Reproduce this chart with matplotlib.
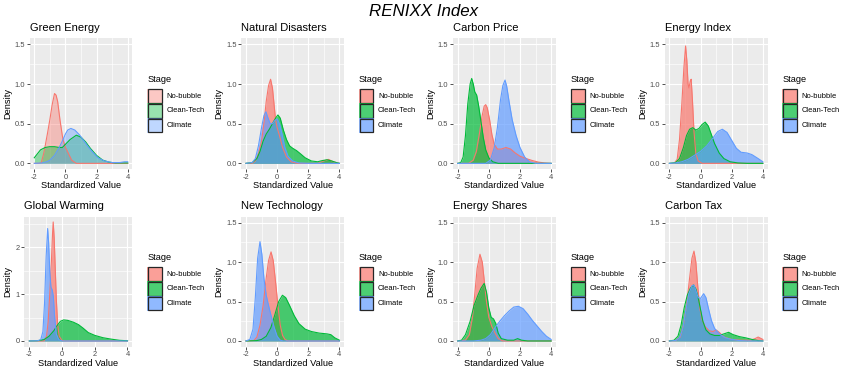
import matplotlib.pyplot as plt
from matplotlib.patches import Rectangle

plt.rcParams["font.family"] = ["Liberation Sans", "DejaVu Sans"]

W, H = 847, 374

STAGES = ["No-bubble", "Clean-Tech", "Climate"]
STAGE_COLORS = ["#F8766D", "#00BA38", "#619CFF"]
X_TICKS = [-2, 0, 2, 4]

# density curves: (standardized value, density)
ge_nobubble = [(-2, 0), (-1.7, 0), (-1.55, 0.01), (-1.4, 0.12), (-1.3, 0.22), (-1.15, 0.38), (-1.0, 0.55),
               (-0.85, 0.74), (-0.7, 0.88), (-0.6, 0.86), (-0.5, 0.78), (-0.35, 0.55), (-0.2, 0.35),
               (-0.14, 0.29), (0.0, 0.2), (0.18, 0.13), (0.4, 0.04), (0.7, 0), (4, 0)]
ge_cleantech = [(-2, 0.07), (-1.8, 0.12), (-1.6, 0.17), (-1.3, 0.2), (-1.0, 0.21), (-0.7, 0.21), (-0.4, 0.2),
                (-0.2, 0.2), (0.0, 0.24), (0.3, 0.3), (0.7, 0.355), (1.0, 0.33), (1.3, 0.27), (1.6, 0.19),
                (2.0, 0.1), (2.4, 0.04), (2.8, 0.015), (3.2, 0.005), (3.6, 0.005), (4, 0.005)]
ge_climate = [(-2, 0), (-1.5, 0.005), (-1.2, 0.02), (-1.0, 0.04), (-0.7, 0.1), (-0.4, 0.2), (-0.2, 0.28),
              (0.0, 0.37), (0.15, 0.42), (0.35, 0.44), (0.6, 0.42), (0.9, 0.36), (1.2, 0.28), (1.5, 0.2),
              (1.8, 0.13), (2.1, 0.07), (2.5, 0.03), (3.0, 0.01), (3.5, 0.01), (3.8, 0.02), (4, 0.02)]

nd_nobubble = [(-2, 0), (-1.6, 0), (-1.4, 0.03), (-1.2, 0.12), (-1.0, 0.28), (-0.85, 0.5), (-0.7, 0.78),
               (-0.55, 0.98), (-0.42, 1.06), (-0.3, 0.95), (-0.2, 0.75), (-0.1, 0.55), (0.0, 0.45),
               (0.15, 0.35), (0.35, 0.2), (0.6, 0.08), (0.9, 0.02), (1.3, 0), (2.6, 0), (3.0, 0.03),
               (3.3, 0.05), (3.6, 0.02), (4, 0)]
nd_cleantech = [(-2, 0), (-1.6, 0.01), (-1.3, 0.06), (-1.1, 0.15), (-0.9, 0.28), (-0.7, 0.37), (-0.5, 0.43),
                (-0.3, 0.5), (-0.1, 0.57), (0.05, 0.61), (0.2, 0.57), (0.4, 0.42), (0.6, 0.3), (0.8, 0.22),
                (1.0, 0.19), (1.25, 0.16), (1.5, 0.12), (1.8, 0.07), (2.2, 0.03), (2.6, 0.02), (2.9, 0.035),
                (3.2, 0.045), (3.5, 0.03), (3.8, 0.01), (4, 0)]
nd_climate = [(-2, 0), (-1.6, 0.01), (-1.4, 0.06), (-1.2, 0.22), (-1.0, 0.45), (-0.85, 0.6), (-0.72, 0.65),
              (-0.6, 0.58), (-0.45, 0.5), (-0.3, 0.5), (-0.15, 0.54), (0.0, 0.56), (0.15, 0.5), (0.3, 0.38),
              (0.5, 0.2), (0.7, 0.09), (1.0, 0.03), (1.4, 0.005), (2.0, 0), (4, 0)]

cp_nobubble = [(-2, 0), (-1.3, 0), (-1.0, 0.04), (-0.8, 0.15), (-0.6, 0.38), (-0.45, 0.58), (-0.3, 0.72),
               (-0.2, 0.74), (-0.1, 0.7), (0.05, 0.55), (0.2, 0.36), (0.35, 0.24), (0.55, 0.18), (0.8, 0.18),
               (1.1, 0.2), (1.4, 0.18), (1.7, 0.13), (2.0, 0.09), (2.4, 0.06), (2.8, 0.035), (3.2, 0.015),
               (3.6, 0.005), (4, 0)]
cp_cleantech = [(-2, 0), (-1.8, 0.01), (-1.65, 0.08), (-1.5, 0.35), (-1.35, 0.75), (-1.2, 1.0), (-1.1, 1.07),
                (-1.0, 1.0), (-0.9, 0.9), (-0.78, 0.86), (-0.65, 0.72), (-0.5, 0.52), (-0.35, 0.32),
                (-0.2, 0.17), (0.0, 0.07), (0.25, 0.02), (0.6, 0), (4, 0)]
cp_climate = [(-2, 0), (-0.2, 0), (0.1, 0.04), (0.35, 0.2), (0.55, 0.45), (0.75, 0.8), (0.9, 0.98),
              (1.04, 1.05), (1.15, 0.97), (1.3, 0.78), (1.5, 0.55), (1.75, 0.35), (2.0, 0.2), (2.3, 0.08),
              (2.6, 0.02), (3.0, 0), (4, 0)]

ei_nobubble = [(-2, 0), (-1.7, 0), (-1.5, 0.05), (-1.35, 0.3), (-1.2, 0.75), (-1.07, 1.2), (-0.96, 1.48),
               (-0.88, 1.3), (-0.8, 1.0), (-0.74, 0.95), (-0.66, 1.04), (-0.6, 1.06), (-0.52, 0.8),
               (-0.42, 0.4), (-0.3, 0.12), (-0.15, 0.03), (0.1, 0), (4, 0)]
ei_cleantech = [(-2, 0), (-1.6, 0.01), (-1.35, 0.06), (-1.1, 0.2), (-0.9, 0.35), (-0.7, 0.43), (-0.5, 0.45),
                (-0.3, 0.42), (-0.1, 0.44), (0.1, 0.49), (0.3, 0.52), (0.5, 0.47), (0.7, 0.36), (0.9, 0.25),
                (1.2, 0.13), (1.5, 0.06), (1.9, 0.02), (2.4, 0.005), (3, 0), (4, 0)]
ei_climate = [(-2, 0), (-1.6, 0.005), (-1.2, 0.02), (-0.8, 0.05), (-0.4, 0.1), (0.0, 0.15), (0.4, 0.22),
              (0.8, 0.32), (1.1, 0.4), (1.4, 0.43), (1.7, 0.39), (2.0, 0.29), (2.3, 0.19), (2.6, 0.14),
              (3.0, 0.13), (3.3, 0.11), (3.7, 0.06), (4, 0.02)]

gw_nobubble = [(-2, 0), (-1.1, 0), (-0.95, 0.1), (-0.85, 0.4), (-0.75, 1.0), (-0.65, 1.7), (-0.58, 2.3),
               (-0.54, 2.54), (-0.48, 2.2), (-0.42, 1.6), (-0.35, 0.9), (-0.27, 0.35), (-0.17, 0.1),
               (0.0, 0.01), (0.2, 0), (4, 0)]
gw_cleantech = [(-2, 0), (-1.5, 0.005), (-1.1, 0.03), (-0.8, 0.1), (-0.5, 0.22), (-0.3, 0.33), (-0.1, 0.42),
                (0.1, 0.45), (0.35, 0.44), (0.7, 0.4), (1.0, 0.35), (1.3, 0.27), (1.6, 0.18), (2.0, 0.12),
                (2.5, 0.07), (3.0, 0.04), (3.5, 0.015), (4, 0.005)]
gw_climate = [(-2, 0), (-1.5, 0.005), (-1.3, 0.03), (-1.17, 0.2), (-1.07, 0.8), (-0.97, 1.8), (-0.88, 2.4),
              (-0.82, 2.1), (-0.75, 1.5), (-0.68, 1.15), (-0.6, 1.09), (-0.53, 0.95), (-0.45, 0.5),
              (-0.35, 0.15), (-0.2, 0.03), (0.0, 0), (4, 0)]

nt_nobubble = [(-2, 0), (-1.5, 0.005), (-1.3, 0.05), (-1.1, 0.2), (-0.9, 0.45), (-0.7, 0.8), (-0.55, 1.02),
               (-0.39, 1.13), (-0.25, 1.02), (-0.1, 0.75), (0.05, 0.45), (0.2, 0.2), (0.35, 0.07),
               (0.5, 0.02), (0.7, 0), (4, 0)]
nt_cleantech = [(-2, 0), (-1.3, 0.005), (-1.0, 0.02), (-0.7, 0.06), (-0.4, 0.17), (-0.15, 0.33), (0.1, 0.5),
                (0.34, 0.58), (0.55, 0.55), (0.8, 0.45), (1.1, 0.32), (1.4, 0.22), (1.8, 0.15), (2.2, 0.12),
                (2.7, 0.1), (3.2, 0.09), (3.45, 0.08), (3.7, 0.04), (4, 0.01)]
nt_climate = [(-2, 0), (-1.75, 0.02), (-1.55, 0.15), (-1.4, 0.55), (-1.25, 1.05), (-1.1, 1.26), (-0.98, 1.1),
              (-0.85, 0.8), (-0.7, 0.58), (-0.55, 0.45), (-0.4, 0.33), (-0.2, 0.18), (0.0, 0.06),
              (0.2, 0.01), (0.4, 0), (4, 0)]

es_nobubble = [(-2, 0), (-1.5, 0.01), (-1.25, 0.08), (-1.05, 0.3), (-0.9, 0.6), (-0.75, 0.92), (-0.57, 1.1),
               (-0.42, 1.0), (-0.3, 0.78), (-0.15, 0.5), (0.0, 0.3), (0.2, 0.18), (0.4, 0.1), (0.6, 0.03),
               (0.9, 0), (4, 0)]
es_cleantech = [(-2, 0), (-1.75, 0.01), (-1.5, 0.08), (-1.2, 0.25), (-0.95, 0.45), (-0.7, 0.58), (-0.5, 0.67),
                (-0.3, 0.73), (-0.15, 0.62), (0.0, 0.42), (0.15, 0.3), (0.3, 0.28), (0.45, 0.22), (0.6, 0.1),
                (0.8, 0.03), (1.2, 0.01), (1.6, 0.01), (1.85, 0.03), (2.1, 0.01), (2.5, 0), (4, 0)]
es_climate = [(-2, 0), (-1.0, 0), (-0.5, 0.01), (-0.2, 0.03), (0.1, 0.08), (0.4, 0.17), (0.7, 0.25),
              (1.0, 0.32), (1.3, 0.38), (1.6, 0.43), (1.9, 0.44), (2.2, 0.41), (2.5, 0.34), (2.8, 0.26),
              (3.1, 0.19), (3.4, 0.12), (3.7, 0.06), (4, 0.02)]

ct_nobubble = [(-2, 0), (-1.6, 0.005), (-1.3, 0.05), (-1.1, 0.2), (-0.9, 0.45), (-0.7, 0.8), (-0.55, 1.05),
               (-0.42, 1.14), (-0.3, 1.0), (-0.18, 0.7), (-0.05, 0.42), (0.1, 0.27), (0.3, 0.18), (0.55, 0.13),
               (0.8, 0.12), (1.0, 0.14), (1.2, 0.11), (1.5, 0.05), (2.0, 0.02), (2.6, 0.01), (3.2, 0.01),
               (3.5, 0.03), (3.7, 0.05), (3.9, 0.03), (4, 0.02)]
ct_cleantech = [(-2, 0), (-1.7, 0.01), (-1.45, 0.06), (-1.25, 0.2), (-1.05, 0.42), (-0.85, 0.58), (-0.65, 0.67),
                (-0.46, 0.71), (-0.3, 0.66), (-0.15, 0.55), (0.0, 0.4), (0.15, 0.25), (0.35, 0.14), (0.6, 0.09),
                (0.9, 0.07), (1.2, 0.07), (1.5, 0.09), (1.8, 0.11), (2.1, 0.08), (2.5, 0.055), (2.9, 0.04),
                (3.3, 0.02), (3.7, 0.005), (4, 0)]
ct_climate = [(-2, 0), (-1.6, 0.005), (-1.35, 0.04), (-1.15, 0.15), (-0.95, 0.38), (-0.75, 0.6), (-0.55, 0.7),
              (-0.42, 0.71), (-0.3, 0.64), (-0.15, 0.55), (0.0, 0.54), (0.2, 0.6), (0.35, 0.55), (0.5, 0.42),
              (0.7, 0.26), (0.9, 0.16), (1.2, 0.09), (1.6, 0.04), (2.0, 0.02), (2.5, 0.005), (3.0, 0), (4, 0)]

panel_titles = ["Green Energy", "Natural Disasters", "Carbon Price", "Energy Index",
                "Global Warming", "New Technology", "Energy Shares", "Carbon Tax"]
panel_curves = [
    (ge_nobubble, ge_cleantech, ge_climate),
    (nd_nobubble, nd_cleantech, nd_climate),
    (cp_nobubble, cp_cleantech, cp_climate),
    (ei_nobubble, ei_cleantech, ei_climate),
    (gw_nobubble, gw_cleantech, gw_climate),
    (nt_nobubble, nt_cleantech, nt_climate),
    (es_nobubble, es_cleantech, es_climate),
    (ct_nobubble, ct_cleantech, ct_climate),
]


def fx(x):
    return x / W


def fy(y):
    return 1 - y / H


fig = plt.figure(figsize=(W / 100, H / 100), dpi=100)
fig.patch.set_facecolor("white")

COL_STEP = 211.7
ROW_TOP = [38.4, 216.8]
ROW_BOTTOM = [169.3, 346.9]

for i, (title, curves) in enumerate(zip(panel_titles, panel_curves)):
    row, col = divmod(i, 4)
    off = col * COL_STEP
    left = off + (24.4 if title == "Global Warming" else 29.6)
    right = off + 132.4
    top, bottom = ROW_TOP[row], ROW_BOTTOM[row]
    # the first panel was drawn with a lighter fill
    alpha = 0.4 if title == "Green Energy" else 0.7

    ax = fig.add_axes([fx(left), fy(bottom), (right - left) / W, (bottom - top) / H])
    ax.set_facecolor("#EBEBEB")
    for s in ax.spines.values():
        s.set_visible(False)

    if title == "Global Warming":
        ax.set_ylim(-0.126, 2.65)
        ax.set_yticks([0, 1, 2])
        ax.set_yticklabels(["0", "1", "2"])
        ax.set_yticks([0.5, 1.5, 2.5], minor=True)
    else:
        ax.set_ylim(-0.075, 1.575)
        ax.set_yticks([0, 0.5, 1.0, 1.5])
        ax.set_yticklabels(["0.0", "0.5", "1.0", "1.5"])
        ax.set_yticks([0.25, 0.75, 1.25], minor=True)
    ax.set_xlim(-2.3, 4.3)
    ax.set_xticks(X_TICKS)
    ax.set_xticklabels([str(t) for t in X_TICKS])
    ax.set_xticks([-1, 1, 3], minor=True)

    ax.grid(which="major", color="white", lw=0.85)
    ax.grid(which="minor", color="white", lw=0.45)
    ax.set_axisbelow(True)
    ax.tick_params(which="major", length=2.0, width=0.6, color="#333333", pad=1.3,
                   labelsize=5.4, labelcolor="#4D4D4D")
    ax.tick_params(which="minor", length=0)

    for pts, color in zip(curves, STAGE_COLORS):
        xs = [p[0] for p in pts]
        ys = [p[1] for p in pts]
        ax.fill_between(xs, 0, ys, color=color, alpha=alpha, lw=0)
        ax.plot(xs, ys, color=color, lw=0.8)

    # panel title, axis titles
    fig.text(fx(left), fy(27.7 if row == 0 else 205.7), title, fontsize=8, ha="left", va="center")
    fig.text(fx((left + right) / 2), fy(185.7 if row == 0 else 364), "Standardized Value",
             fontsize=6.7, ha="center", va="center")
    fig.text(fx(off + 7.3), fy((top + bottom) / 2), "Density", fontsize=6.7,
             rotation=90, ha="center", va="center")

    # legend
    leg_x = off + 147.3
    leg_title_y = 80 if row == 0 else 257.7
    key_top = 88.7 if row == 0 else 266.7
    key = 14.7
    fig.text(fx(leg_x), fy(leg_title_y), "Stage", fontsize=6.7, ha="left", va="center")
    for k, (stage, color) in enumerate(zip(STAGES, STAGE_COLORS)):
        y0 = key_top + k * key
        fig.patches.append(Rectangle((fx(leg_x), fy(y0 + key)), key / W, key / H,
                                     transform=fig.transFigure, facecolor=color, alpha=alpha,
                                     edgecolor="none"))
        fig.patches.append(Rectangle((fx(leg_x + 0.5), fy(y0 + key - 0.5)), (key - 1) / W, (key - 1) / H,
                                     transform=fig.transFigure, facecolor="none",
                                     edgecolor="#262626", lw=0.9))
        fig.text(fx(leg_x + 19), fy(y0 + key / 2), stage, fontsize=5.4, ha="left", va="center")

fig.text(0.5, fy(12), "RENIXX Index", fontsize=12.2, style="italic", ha="center", va="center")

fig.savefig("out.png", dpi=100)
